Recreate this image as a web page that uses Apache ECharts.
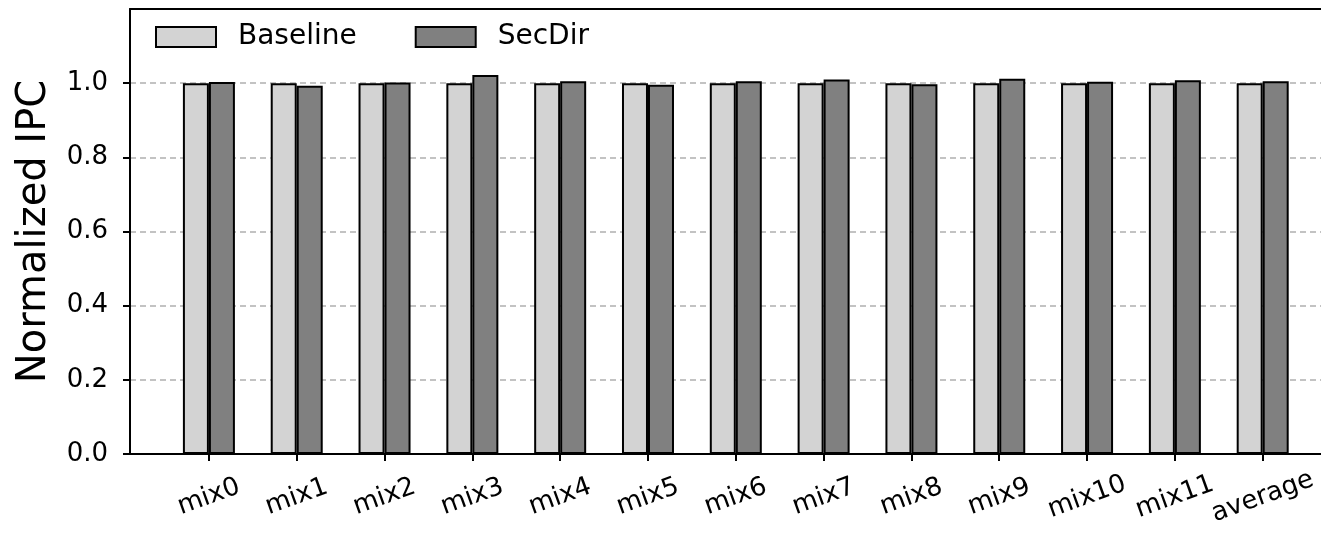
<!DOCTYPE html>
<html>
<head>
<meta charset="utf-8">
<script src="https://cdn.jsdelivr.net/npm/echarts@6/dist/echarts.min.js"></script>
<style>
  html, body { margin: 0; padding: 0; background: #fff; }
  #chart { width: 1321px; height: 533px; }
</style>
</head>
<body>
<div id="chart"></div>
<script>
// data
const categories = ["mix0", "mix1", "mix2", "mix3", "mix4", "mix5", "mix6", "mix7", "mix8", "mix9", "mix10", "mix11", "average"];
const baseline = [1, 1, 1, 1, 1, 1, 1, 1, 1, 1, 1, 1, 1];
const secdir = [1.003, 0.993, 1.002, 1.022, 1.005, 0.996, 1.005, 1.010, 0.997, 1.012, 1.004, 1.008, 1.005];
const yTicks = [0, 0.2, 0.4, 0.6, 0.8, 1.0];

const font = "DejaVu Sans";
const chart = echarts.init(document.getElementById("chart"));

const spine = { show: true, lineStyle: { color: "#000", width: 2 } };

let option = {
  animation: false,
  backgroundColor: "#fff",
  textStyle: { fontFamily: font, color: "#000" },
  grid: [
    // frame + y axis (right spine falls outside the picture)
    { left: 130, width: 1216, top: 9, bottom: 79 },
    // bars
    { left: 165, right: 14.4, top: 9, bottom: 79 },
  ],
  legend: {
    left: 155,
    top: 23,
    padding: 0,
    itemWidth: 60,
    itemHeight: 20,
    itemGap: 58,
    icon: "rect",
    textStyle: { fontFamily: font, fontSize: 28, color: "#000", padding: [0, 0, 0, 17] },
    data: ["Baseline", "SecDir"],
  },
  xAxis: [
    {
      type: "value", gridIndex: 0, min: 0, max: 1, position: "bottom",
      axisLine: spine, axisTick: { show: false }, axisLabel: { show: false }, splitLine: { show: false },
    },
    {
      type: "category",
      gridIndex: 1,
      data: categories,
      axisLine: { show: false },
      axisTick: { show: true, alignWithLabel: true, length: 7, lineStyle: { color: "#000", width: 2 } },
      axisLabel: {
        rotate: 20,
        margin: 43,
        align: "center",
        verticalAlign: "middle",
        fontFamily: font,
        fontSize: 26,
        color: "#000",
        interval: 0,
      },
    },
    {
      type: "value", gridIndex: 0, min: 0, max: 1, position: "top",
      axisLine: spine, axisTick: { show: false }, axisLabel: { show: false }, splitLine: { show: false },
    },
  ],
  yAxis: [
    {
      type: "value",
      gridIndex: 0,
      min: 0,
      max: 1.2,
      interval: 0.2,
      name: "Normalized IPC",
      nameLocation: "middle",
      nameGap: 75,
      nameTextStyle: { fontFamily: font, fontSize: 40, color: "#000" },
      axisLine: spine,
      axisTick: { show: true, length: 7, customValues: yTicks, lineStyle: { color: "#000", width: 2 } },
      axisLabel: {
        customValues: yTicks,
        margin: 22,
        fontFamily: font,
        fontSize: 26,
        color: "#000",
        formatter: (v) => v.toFixed(1),
      },
      splitLine: { show: true, lineStyle: { color: "#b0b0b0", width: 1.5, type: [6, 4] } },
    },
    { type: "value", gridIndex: 1, min: 0, max: 1.2, show: false },
  ],
  series: [
    {
      name: "Baseline",
      type: "bar",
      xAxisIndex: 1,
      yAxisIndex: 1,
      data: baseline,
      barWidth: 26,
      barGap: "0%",
      itemStyle: { color: "#d3d3d3", borderColor: "#000", borderWidth: 2 },
    },
    {
      name: "SecDir",
      type: "bar",
      xAxisIndex: 1,
      yAxisIndex: 1,
      data: secdir,
      barWidth: 26,
      barGap: "0%",
      itemStyle: { color: "#808080", borderColor: "#000", borderWidth: 2 },
    },
  ],
};

chart.setOption(option);
</script>
</body>
</html>
